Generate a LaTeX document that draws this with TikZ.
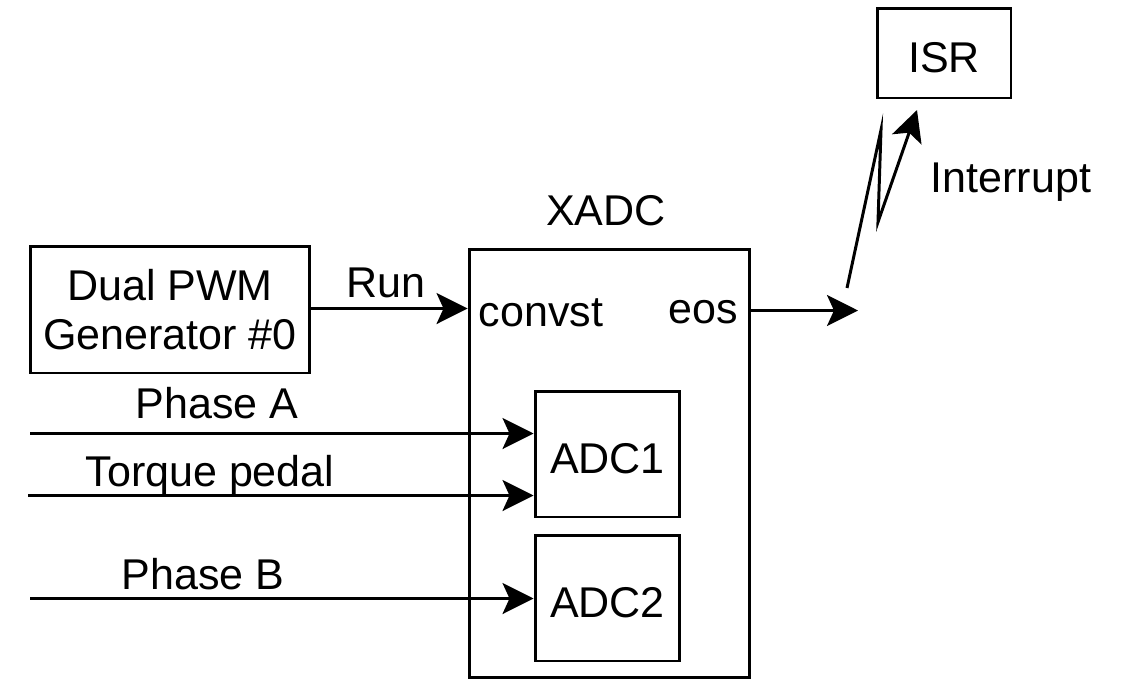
\documentclass[tikz,border=0pt]{standalone}
\usepackage{fontspec}
\setmainfont{Liberation Sans}
\usetikzlibrary{arrows.meta}

\tikzset{
  blk/.style={draw, line width=1.7pt, inner sep=0pt},
  onetext/.style={text height=26pt, text depth=4pt},
  lbl/.style={inner sep=0pt},
  arr/.style={line width=1.7pt, -{Stealth[length=0.62cm, width=0.62cm, inset=0.14cm]}},
}

\begin{document}
\begin{tikzpicture}[x=0.02cm, y=-0.02cm, font=\fontsize{24.5}{28}\selectfont]
\useasboundingbox (0,0) rectangle (1147,694);

% blocks
\node[blk, minimum width=5.6cm, minimum height=2.54cm, align=center] (pwm) at (170,309.5) {Dual PWM\\Generator \#0};
\node[blk, minimum width=5.62cm, minimum height=8.58cm] (xadc) at (609.5,463.5) {};
\node[blk, onetext, minimum width=2.9cm, minimum height=2.52cm] (adc1) at (607.5,454) {ADC1};
\node[blk, onetext, minimum width=2.9cm, minimum height=2.52cm] (adc2) at (607.5,598) {ADC2};
\node[blk, onetext, minimum width=2.68cm, minimum height=1.8cm] (isr) at (944,53) {ISR};

% labels
\node[lbl] (xadclbl) at (606,211) {XADC};
\node[lbl] (convst) at (541,313) {convst};
\node[lbl] (eos) at (703,312) {eos};
\node[lbl] (run) at (386,283) {Run};
\node[lbl] (phasea) at (217,403) {Phase A};
\node[lbl] (torque) at (210,475) {Torque pedal};
\node[lbl] (phaseb) at (203,574) {Phase B};
\node[lbl] (intr) at (1011,182) {Interrupt};

% inputs
\coordinate (pa) at (30,433.5);
\coordinate (tp) at (28,495.5);
\coordinate (pb) at (30,598.5);
\draw[arr] (pwm.east |- 0,308.5) -- (xadc.west |- 0,308.5);
\draw[arr] (pa) -- (adc1.west |- pa);
\draw[arr] (tp) -- (adc1.west |- tp);
\draw[arr] (pb) -- (adc2.west |- pb);

% eos and interrupt
\coordinate (eosend) at (858,310.5);
\draw[arr] (xadc.east |- eosend) -- (eosend);
\coordinate (zz0) at (847,288);
\coordinate (zz1) at (881,130);
\coordinate (zz2) at (878,222);
\coordinate (zz3) at (917,110);
\draw[arr, miter limit=25] (zz0) -- (zz1) -- (zz2) -- (zz3);

\end{tikzpicture}
\end{document}
